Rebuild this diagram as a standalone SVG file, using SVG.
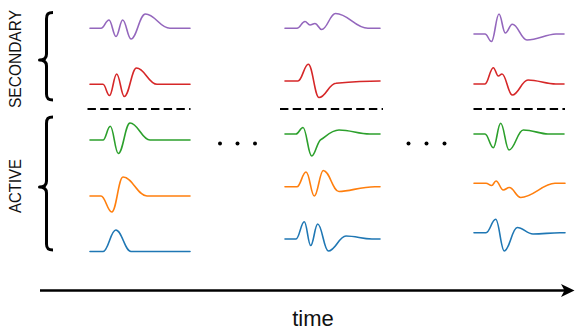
<svg xmlns="http://www.w3.org/2000/svg" width="581" height="333" viewBox="0 0 581 333">
<style>
.w{fill:none;stroke-width:1.6;stroke-linejoin:round;stroke-linecap:round}
.pu{stroke:#9467bd}.rd{stroke:#d62728}.gr{stroke:#2ca02c}.or{stroke:#ff7f0e}.bl{stroke:#1f77b4}
.dash{stroke:#000;stroke-width:2;stroke-dasharray:8.4 4.3}
.brace{fill:none;stroke:#000;stroke-width:3;stroke-linejoin:round}
.lbl{font-family:"Liberation Sans",Arial,sans-serif;font-size:17px;fill:#111}
.dot{fill:#000}
</style>
<rect width="581" height="333" fill="#fff"/>
<g id="labels">
<text class="lbl" transform="rotate(-90)" x="-59" y="20.5" text-anchor="middle" textLength="98" lengthAdjust="spacingAndGlyphs">SECONDARY</text>
<text class="lbl" transform="rotate(-90)" x="-186" y="20.5" text-anchor="middle" textLength="54" lengthAdjust="spacingAndGlyphs">ACTIVE</text>
</g>
<g id="braces">
<path class="brace" d="M53,12.5 C48,12.5 46.5,14 46.5,19 L46.5,54 C46.5,58 44.5,60 39.5,60 C44.5,60 46.5,62 46.5,66 L46.5,94 C46.5,98.5 48,100 53,100"/>
<path class="brace" d="M53,117 C48,117 46.5,118.5 46.5,123.5 L46.5,181 C46.5,185 44.5,187 39.5,187 C44.5,187 46.5,189 46.5,193 L46.5,244 C46.5,248.5 48,250 53,250"/>
</g>
<g id="col1">
<path class="w pu" d="M90,28.3 H101 C104.2,28.3 105.8,20 109,20 C111.8,20 113.2,36.5 116,36.5 C118.7,36.5 120,20 122.7,20 C126,20 127.7,39 131,39 C136.6,39 139.4,14 145.5,14 C155,14 160,28.3 170,28.3 H190"/>
<path class="w rd" d="M90,84.3 H103 C105.6,84.3 106.9,95.5 109.5,95.5 C112.4,95.5 113.8,74 116.7,74 C119.7,74 121.3,96.5 124.3,96.5 C129.2,96.5 131.6,68 136.5,68 C144.7,68 148.8,84.3 157,84.3 H190"/>
<path class="w gr" d="M90,140 H103 C105.9,140 107.4,126.3 110.3,126.3 C113.5,126.3 115.1,153.5 118.3,153.5 C123,153.5 125.3,123 130,123 C138,123 142,140 150,140 H190"/>
<path class="w or" d="M90,196 H101 C105.3,196 107.5,212 111.8,212 C116.3,212 118.5,177 123,177 C132.6,177 137.4,196 147,196 H190"/>
<path class="w bl" d="M90,251.5 H103 C108.2,251.5 110.7,230 115.8,230 C121.9,230 124.9,251.5 131,251.5 H190"/>
<line class="dash" x1="87.5" y1="109" x2="190.5" y2="109"/>
</g>
<g id="col2">
<path class="w pu" d="M285,28.3 H297 C300.2,28.3 301.8,21.5 305,21.5 C307,21.5 308,25 310,25 C312,25 313,23.5 315,23.5 C317.7,23.5 319,29.5 321.7,29.5 C327.2,29.5 330,13.5 335.5,13.5 C348.5,13.5 355,28.3 368,28.3 H380"/>
<path class="w rd" d="M285,81 H298 C302.1,81 304.2,64.3 308.3,64.3 C312.6,64.3 314.7,97.5 319,97.5 C325.8,97.5 329,83.2 336,83.2 C350,82 365,81 380,81"/>
<path class="w gr" d="M285,134 H296 C298.8,134 300.2,127.5 303,127.5 C306.5,127.5 308.2,156 311.7,156 C315.2,156 317,141.5 321,139.5 C325,137.5 331,130 339,130 C351,130 358,134 370,134 H380"/>
<path class="w or" d="M285,186.7 H297 C300.6,186.7 302.4,172 306,172 C309.6,172 311,196 314.3,196 C317.9,196 319.7,170.5 323.3,170.5 C329.6,170.5 332.7,191.5 339,191.5 C350,191.5 360,186.7 375,186.7 H380"/>
<path class="w bl" d="M285,239 H296 C299.3,239 301,221.7 304.3,221.7 C306.9,221.7 308.1,245.5 310.7,245.5 C313.5,245.5 314.9,224 317.7,224 C321.9,224 324.1,251 328.3,251 C335.4,251 339,236 346,236 C356,236 362,239 372,239 H380"/>
<line class="dash" x1="280" y1="109" x2="383" y2="109"/>
</g>
<g id="col3">
<path class="w pu" d="M474,34 H485 C487.6,34 488.9,41.5 491.5,41.5 C494.5,41.5 496,14 499,14 C501.5,14 502.8,33 505.3,33 C508.1,33 509.5,24.3 512.3,24.3 C518.2,24.3 521.1,40 527,40 C538,40 545,34.5 556,34 H564"/>
<path class="w rd" d="M474,84 H485 C488.3,84 490,67.7 493.3,67.7 C495.3,67.7 496.3,76 498.3,76 C499.8,76 500.5,74 502,74 C506.1,74 508.2,95 512.3,95 C518.6,95 521.7,80 528,80 C538,80 546,84 556,84 H564"/>
<path class="w gr" d="M474,134 H485 C488.3,134 490,147.7 493.3,147.7 C496.3,147.7 497.7,123.3 500.7,123.3 C504,123.3 505.7,150 509,150 C514.7,150 517.6,130 523.3,130 C533,130 540,134 548,134 H564"/>
<path class="w or" d="M474,183.3 H486 C488.3,183.3 489.4,185.5 491.7,185.5 C493.4,185.5 494.3,181 496,181 C498.9,181 500.4,190 503.3,190 C505.7,190 506.9,187.5 509.3,187.5 C513.9,187.5 516.1,197.5 520.7,197.5 C533,197.5 543,183.3 555,183.3 H565"/>
<path class="w bl" d="M474,232.7 H486 C489.9,232.7 491.8,219.3 495.7,219.3 C499.1,219.3 500.9,251 504.3,251 C509.5,251 512.1,227.5 517.3,227.5 C523,227.5 527,234 533,234 C543,234 550,232.7 560,232.7 H565"/>
<line class="dash" x1="473.5" y1="109" x2="565" y2="109"/>
</g>
<g id="ellipses">
<circle class="dot" cx="220" cy="143.5" r="2"/>
<circle class="dot" cx="237.5" cy="143.5" r="2"/>
<circle class="dot" cx="255" cy="143.5" r="2"/>
<circle class="dot" cx="408.5" cy="143.5" r="2"/>
<circle class="dot" cx="426.5" cy="143.5" r="2"/>
<circle class="dot" cx="444.5" cy="143.5" r="2"/>
</g>
<g id="connectors">
<line x1="40" y1="290.5" x2="566" y2="290.5" stroke="#000" stroke-width="2.5"/>
<path d="M574.5,290.5 L561,284 L564.5,290.5 L561,297 Z" fill="#000"/>
</g>
<g id="axis-label">
<text x="313" y="326" text-anchor="middle" font-family="Liberation Sans, Arial, sans-serif" font-size="22" fill="#111">time</text>
</g>
</svg>
